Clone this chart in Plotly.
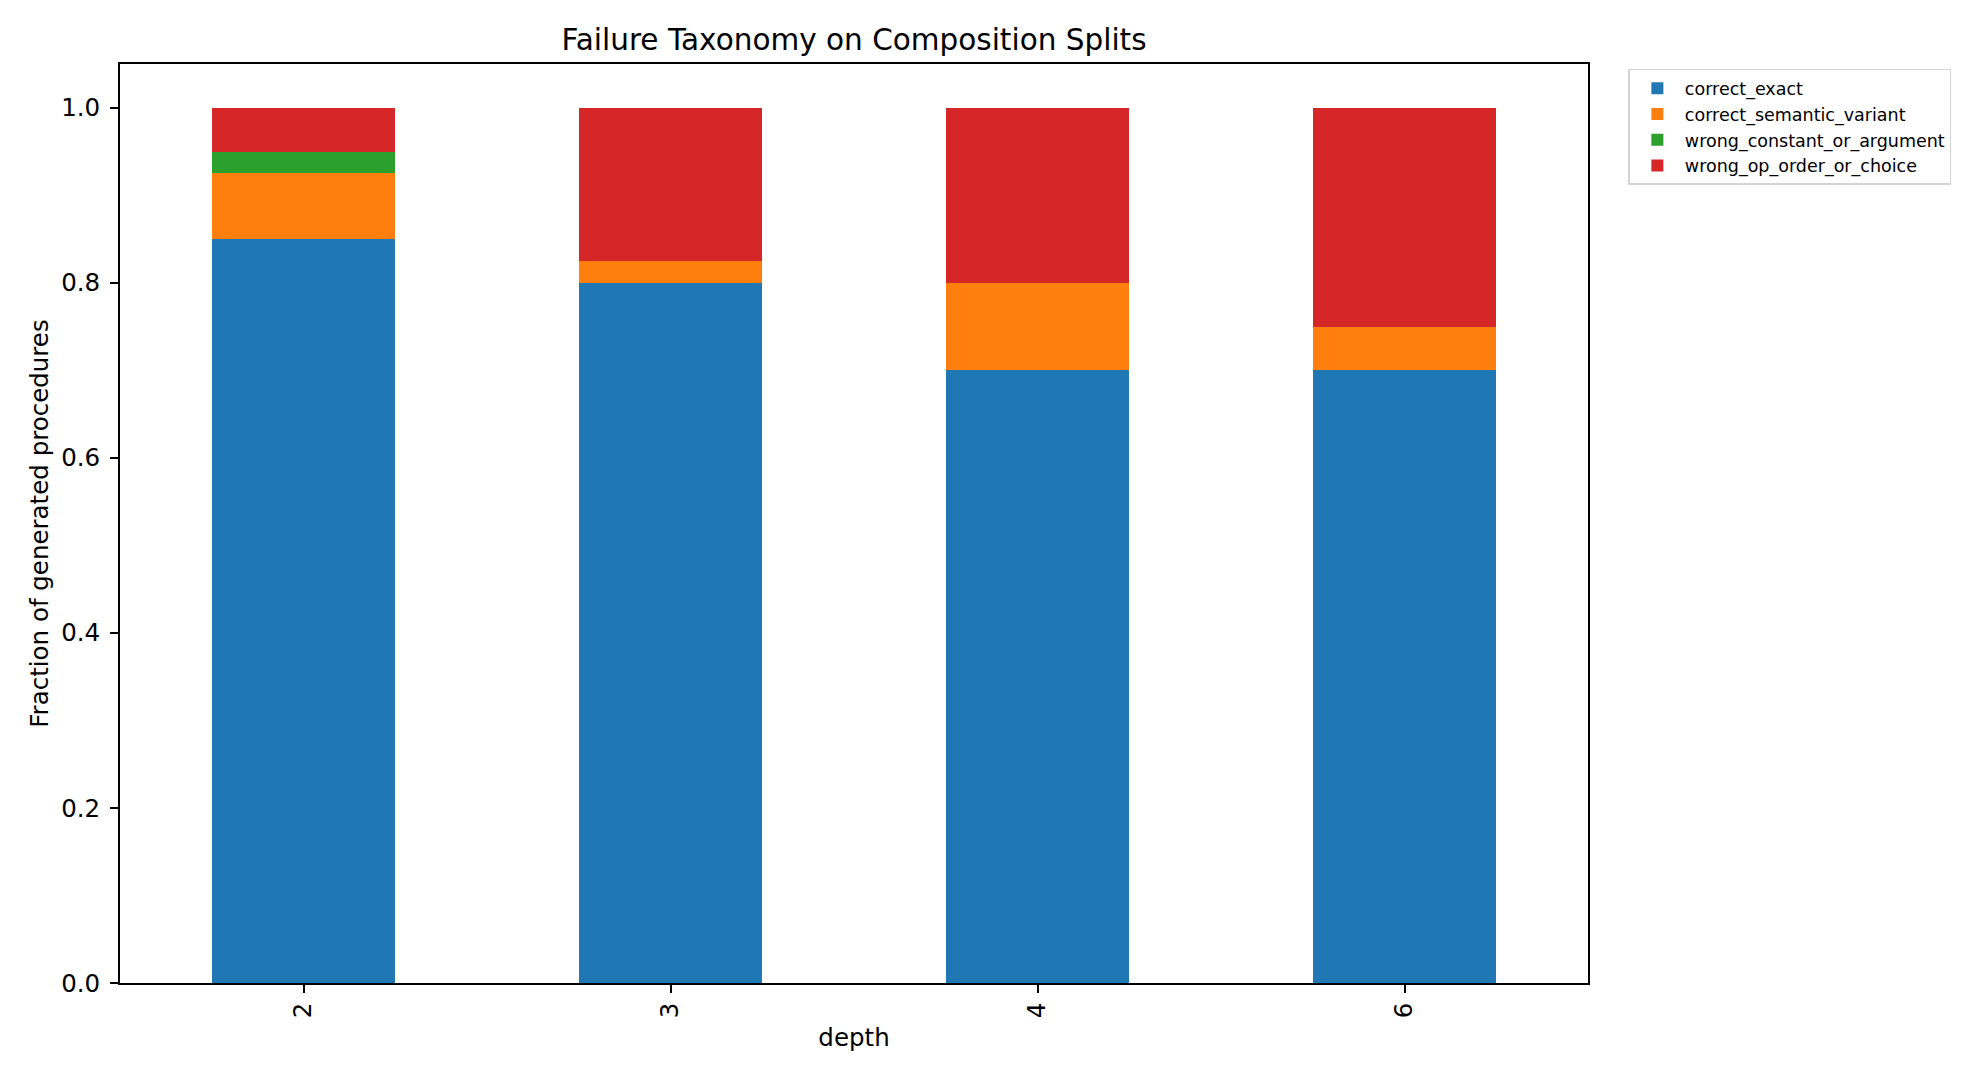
import plotly.graph_objects as go

depths = ["2", "3", "4", "6"]
correct_exact = [0.85, 0.80, 0.70, 0.70]
correct_semantic_variant = [0.075, 0.025, 0.10, 0.05]
wrong_constant_or_argument = [0.025, 0.0, 0.0, 0.0]
wrong_op_order_or_choice = [0.05, 0.175, 0.20, 0.25]

series = [
    ("correct_exact", correct_exact, "#1f77b4"),
    ("correct_semantic_variant", correct_semantic_variant, "#ff7f0e"),
    ("wrong_constant_or_argument", wrong_constant_or_argument, "#2ca02c"),
    ("wrong_op_order_or_choice", wrong_op_order_or_choice, "#d62728"),
]

FONT = "DejaVu Sans"
TICK = 24.5

fig = go.Figure()
for name, vals, color in series:
    fig.add_trace(go.Bar(
        x=depths, y=vals, name=name, width=0.5, legendgroup=name,
        marker=dict(color=color, line=dict(width=0)),
    ))

axis_common = dict(
    showline=True, linecolor="black", linewidth=1.8, mirror=True,
    ticks="outside", ticklen=8, tickwidth=1.8, tickcolor="black",
    showgrid=False, zeroline=False,
    tickfont=dict(family=FONT, size=TICK, color="black"),
)

fig.update_layout(
    width=1980, height=1080,
    paper_bgcolor="white", plot_bgcolor="white",
    barmode="stack", bargap=0,
    margin=dict(l=112, r=400, t=56, b=105),
    font=dict(family=FONT, size=TICK, color="black"),
    title=dict(
        text="Failure Taxonomy on Composition Splits",
        font=dict(family=FONT, size=29.5, color="black"),
        x=0.5, xref="paper", xanchor="center",
        y=1, yref="paper", yanchor="bottom", pad=dict(b=14),
    ),
    xaxis=dict(
        type="category", range=[-0.5, 3.5], tickangle=-90,
        title=dict(text="depth", font=dict(family=FONT, size=TICK, color="black"), standoff=12),
        **axis_common,
    ),
    yaxis=dict(
        range=[0, 1.05], dtick=0.2, tick0=0, tickformat=".1f",
        title=dict(text="Fraction of generated procedures",
                   font=dict(family=FONT, size=TICK, color="black"), standoff=6),
        ticklabelstandoff=5,
        **axis_common,
    ),
    legend=dict(
        x=1.0275, y=0.9946, xanchor="left", yanchor="top",
        xref="paper", yref="paper",
        bordercolor="#d4d4d4", borderwidth=1.5, bgcolor="white",
        font=dict(family=FONT, size=17.5, color="black"),
        traceorder="normal", itemwidth=45, tracegroupgap=1,
    ),
    showlegend=True,
)

fig.write_html("out.html")
